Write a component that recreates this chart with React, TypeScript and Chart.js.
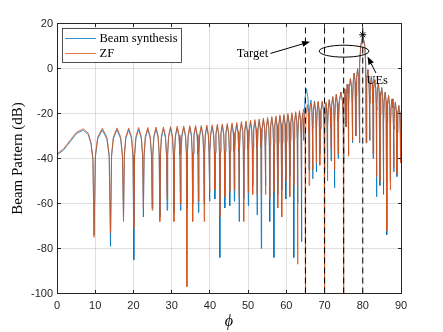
import React, { useEffect, useRef } from 'react';
import { Chart, registerables } from 'chart.js';

Chart.register(...registerables);

// ---------- axes ----------
const xTickValues = [0, 10, 20, 30, 40, 50, 60, 70, 80, 90];
const yTickValues = [-100, -80, -60, -40, -20, 0, 20];

// ---------- series labels ----------
const seriesLabels = ['Beam synthesis', 'ZF'];

// ---------- first (wide) lobe ----------
const startPhi = [0, 1.7, 3.4, 5.1, 6.9, 8.2, 8.9, 9.4];
const zfStartDb = [-37.9, -35.7, -32.0, -28.3, -26.8, -28.8, -33.0, -40.0];
const beamStartDb = [-38.4, -36.3, -32.6, -28.9, -27.4, -29.4, -33.6, -40.6];

// ---------- nulls (angle, depth) ----------
const zfNullPhi = [9.7, 14.0, 17.4, 20.1, 22.6, 24.9, 26.9, 28.8, 30.6, 32.3, 34.0, 35.5, 37.0, 38.5, 39.9, 41.3, 42.6, 43.9, 45.2, 46.4, 47.65, 48.85, 50.05, 51.2, 52.35, 53.45, 54.55, 55.65, 56.75, 57.8, 58.85, 59.9, 60.95, 61.95, 62.95, 63.95, 65.0, 65.95, 66.9, 67.85, 68.8, 70.0, 70.75, 71.7, 72.6, 73.55, 75.0, 75.6, 76.25, 77.3, 78.2, 79.1, 80.9, 81.8, 82.7, 83.6, 84.5, 85.4, 86.3, 87.2, 88.1, 88.95, 89.9];
const zfNullDb = [-75, -73, -68, -71, -62, -63, -68, -58, -68, -60, -97, -68, -59, -68, -55, -54, -66, -57, -55, -54, -57, -68, -55, -56, -56, -56, -56, -58, -55, -62, -66, -50, -57, -52, -87, -53, -130, -52, -45, -42, -43, -130, -50, -36, -45, -38, -130, -26, -39, -32, -30, -33, -33, -31.6, -38, -48, -50, -50, -72, -54, -44, -47, -42];

const beamNullPhi = [9.7, 14.0, 17.4, 20.1, 22.6, 24.9, 26.9, 28.8, 30.6, 32.3, 34.0, 35.5, 37.0, 38.5, 39.9, 41.3, 42.6, 43.9, 45.2, 46.4, 47.65, 48.85, 50.05, 51.2, 52.35, 53.45, 54.55, 55.65, 56.75, 57.8, 58.85, 59.9, 60.95, 61.95, 62.95, 63.95, 64.6, 65.95, 66.9, 67.85, 68.8, 70.0, 70.75, 71.7, 72.6, 73.55, 75.0, 75.6, 76.25, 77.3, 78.2, 79.1, 80.9, 81.8, 82.7, 83.6, 84.5, 85.4, 86.3, 87.2, 88.1, 88.95, 89.9];
const beamNullDb = [-74, -79, -66, -85, -66, -62, -66, -63, -64, -63, -62, -60, -64, -60, -59, -58, -84, -62, -61, -59, -68, -58, -61, -52, -65, -80, -52, -68, -84, -56, -54, -58, -48, -84, -60, -77, -24, -45, -49, -46, -38, -45, -44, -41, -53, -40, -42, -26, -38, -33, -30, -33, -33, -32, -40, -57, -52, -56, -74, -50, -46, -48, -42];

// ---------- lobe peaks (one per gap between nulls) ----------
const zfPeakDb = [-26.5, -26.4, -26.4, -26.2, -26.2, -26.0, -26.0, -25.8, -25.6, -25.5, -25.4, -25.3, -25.3, -25.1, -25.0, -24.8, -24.6, -24.4, -24.2, -24.0, -23.6, -23.3, -23.0, -22.7, -22.4, -22.0, -21.7, -21.3, -21.0, -20.6, -20.3, -20.0, -19.6, -19.2, -18.7, -18.0, -16.0, -15.5, -15.0, -14.5, -14.5, -15.0, -13.8, -12.5, -11.5, -10.5, -9.0, -7.0, -4.5, -2.0, 0.0, 14.5, -0.5, -3.5, -5.0, -6.5, -8.5, -10.5, -12.0, -13.5, -15.0, -16.5];
const beamPeakDb = [-27.3, -27.2, -27.2, -27.0, -27.0, -26.8, -26.8, -26.6, -26.4, -26.3, -26.2, -26.1, -26.1, -25.9, -25.8, -25.6, -25.4, -25.2, -25.0, -24.8, -24.4, -24.1, -23.8, -23.5, -23.2, -22.8, -22.5, -22.1, -21.8, -21.4, -21.1, -20.8, -20.4, -20.0, -19.5, -20.0, -9.0, -14.0, -14.5, -15.0, -15.0, -15.5, -14.0, -12.5, -11.5, -10.5, -9.0, -7.0, -4.5, -2.0, 0.0, 14.5, -0.5, -3.5, -5.0, -6.5, -8.5, -10.5, -12.0, -13.5, -15.0, -16.5];

// ---------- end of the curves ----------
const endPhi = [90];
const zfEndDb = [-19];
const beamEndDb = [-19.5];

// ---------- marker and reference lines ----------
const markerPhi = [80];
const markerDb = [15];
const dashedPhi = [65, 70, 75, 80];

// ---------- annotations (data coordinates) ----------
const targetText = { text: 'Target', phi: 47.0, db: 5.0 };
const targetArrow = [55.85, 6.7, 66.2, 11.9];
const ueText = { text: 'UEs', phi: 80.95, db: -7.1 };
const ueArrow = [83.45, -2.0, 81.24, 5.3];
const ellipse = { phi: 75.1, db: 7.7, halfPhi: 6.5, halfDb: 2.65 };

// ---------- styles ----------
const BLUE = '#0072BD';
const ORANGE = '#D95319';
const AXIS = '#262626';
const GRID = 'rgba(38,38,38,0.15)';
const SANS = '"Liberation Sans", Arial, Helvetica, sans-serif';
const SERIF = '"Liberation Serif", "Times New Roman", serif';
const LINE_W = 0.8;
const LOBE_T = [0.08, 0.22, 0.5, 0.78, 0.92];
const LOBE_DROP = [12, 4, 0, 4, 12];

function buildCurve(sPhi: number[], sDb: number[], nPhi: number[], nDb: number[], pDb: number[], ePhi: number[], eDb: number[]) {
  const pts: { x: number; y: number }[] = sPhi.map((x, i) => ({ x, y: sDb[i] }));
  nPhi.forEach((x, i) => {
    pts.push({ x, y: nDb[i] });
    if (i < pDb.length) {
      const w = nPhi[i + 1] - x;
      LOBE_T.forEach((t, k) => pts.push({ x: x + t * w, y: pDb[i] - LOBE_DROP[k] }));
    }
  });
  ePhi.forEach((x, i) => pts.push({ x, y: eDb[i] }));
  return pts;
}

function drawArrow(ctx: CanvasRenderingContext2D, x1: number, y1: number, x2: number, y2: number) {
  const head = 8;
  const half = 3;
  const a = Math.atan2(y2 - y1, x2 - x1);
  const bx = x2 - head * Math.cos(a);
  const by = y2 - head * Math.sin(a);
  ctx.beginPath();
  ctx.moveTo(x1, y1);
  ctx.lineTo(bx, by);
  ctx.stroke();
  ctx.beginPath();
  ctx.moveTo(x2, y2);
  ctx.lineTo(bx + half * Math.sin(a), by - half * Math.cos(a));
  ctx.lineTo(bx - half * Math.sin(a), by + half * Math.cos(a));
  ctx.closePath();
  ctx.fill();
}

const align = (v: number) => Math.round(v - 0.5) + 0.5;

const overlayPlugin = {
  id: 'overlay',
  afterDatasetsDraw(chart: any) {
    const { ctx, chartArea: ca, scales } = chart;
    const px = (v: number) => scales.x.getPixelForValue(v);
    const py = (v: number) => scales.y.getPixelForValue(v);
    ctx.save();
    ctx.beginPath();
    ctx.rect(ca.left, ca.top, ca.right - ca.left, ca.bottom - ca.top);
    ctx.clip();

    // dashed reference lines
    ctx.strokeStyle = '#000';
    ctx.lineWidth = 1;
    ctx.setLineDash([6, 4]);
    dashedPhi.forEach((v) => {
      ctx.beginPath();
      ctx.moveTo(px(v), py(yTickValues[0]));
      ctx.lineTo(px(v), py(yTickValues[yTickValues.length - 1]));
      ctx.stroke();
    });
    ctx.setLineDash([]);

    // ellipse
    ctx.strokeStyle = '#000';
    ctx.lineWidth = 1;
    ctx.beginPath();
    ctx.ellipse(
      px(ellipse.phi), py(ellipse.db),
      px(ellipse.phi + ellipse.halfPhi) - px(ellipse.phi),
      py(ellipse.db) - py(ellipse.db + ellipse.halfDb),
      0, 0, Math.PI * 2
    );
    ctx.stroke();

    // arrows
    ctx.fillStyle = '#000';
    drawArrow(ctx, px(targetArrow[0]), py(targetArrow[1]), px(targetArrow[2]), py(targetArrow[3]));
    drawArrow(ctx, px(ueArrow[0]), py(ueArrow[1]), px(ueArrow[2]), py(ueArrow[3]));

    // annotation texts
    ctx.font = `12.5px ${SERIF}`;
    ctx.textAlign = 'left';
    ctx.textBaseline = 'alphabetic';
    ctx.fillStyle = '#000';
    ctx.fillText(targetText.text, px(targetText.phi), py(targetText.db));
    ctx.fillText(ueText.text, px(ueText.phi), py(ueText.db));
    ctx.restore();

    // legend
    ctx.save();
    const lx = Math.round(ca.left) + 5;
    const ly = Math.round(ca.top) + 4;
    ctx.fillStyle = '#fff';
    ctx.fillRect(lx, ly, 120, 34);
    ctx.strokeStyle = AXIS;
    ctx.lineWidth = 0.8;
    ctx.strokeRect(lx + 0.5, ly + 0.5, 119, 34);
    const rows = [
      { label: seriesLabels[0], color: BLUE, y: ly + 10.5 },
      { label: seriesLabels[1], color: ORANGE, y: ly + 25.5 },
    ];
    ctx.font = `12.5px ${SERIF}`;
    ctx.textAlign = 'left';
    ctx.textBaseline = 'alphabetic';
    rows.forEach((r) => {
      ctx.strokeStyle = r.color;
      ctx.lineWidth = LINE_W;
      ctx.beginPath();
      ctx.moveTo(lx + 3, r.y);
      ctx.lineTo(lx + 34, r.y);
      ctx.stroke();
      ctx.fillStyle = '#000';
      ctx.fillText(r.label, lx + 37.5, r.y + 3.8);
    });
    ctx.restore();
  },
  afterDraw(chart: any) {
    const { ctx, chartArea: ca, scales } = chart;
    const L = align(ca.left), R = align(ca.right), T = align(ca.top), B = align(ca.bottom);
    ctx.save();
    ctx.strokeStyle = AXIS;
    ctx.lineWidth = 1;
    ctx.strokeRect(L, T, R - L, B - T);
    const tl = 3.5;
    ctx.beginPath();
    xTickValues.forEach((v) => {
      const x = align(scales.x.getPixelForValue(v));
      ctx.moveTo(x, B); ctx.lineTo(x, B - tl);
      ctx.moveTo(x, T); ctx.lineTo(x, T + tl);
    });
    yTickValues.forEach((v) => {
      const y = align(scales.y.getPixelForValue(v));
      ctx.moveTo(L, y); ctx.lineTo(L + tl, y);
      ctx.moveTo(R, y); ctx.lineTo(R - tl, y);
    });
    ctx.stroke();

    // axis titles
    ctx.fillStyle = '#000';
    ctx.textAlign = 'center';
    ctx.textBaseline = 'middle';
    ctx.font = `italic 16px ${SERIF}`;
    ctx.fillText('\u03D5', (ca.left + ca.right) / 2, 322);
    ctx.translate(18, (ca.top + ca.bottom) / 2);
    ctx.rotate(-Math.PI / 2);
    ctx.font = `15px ${SERIF}`;
    ctx.fillText('Beam Pattern (dB)', 0, 0);
    ctx.restore();
  },
};

export default function App() {
  const ref = useRef<HTMLCanvasElement>(null);
  useEffect(() => {
    const zfPts = buildCurve(startPhi, zfStartDb, zfNullPhi, zfNullDb, zfPeakDb, endPhi, zfEndDb);
    const beamPts = buildCurve(startPhi, beamStartDb, beamNullPhi, beamNullDb, beamPeakDb, endPhi, beamEndDb);
    const tickFont = { family: SANS, size: 11 };
    const chart = new Chart(ref.current as HTMLCanvasElement, {
      type: 'line',
      data: {
        datasets: [
          {
            label: '*',
            data: markerPhi.map((x, i) => ({ x, y: markerDb[i] })),
            showLine: false,
            pointStyle: 'star',
            pointRadius: 3.5,
            pointBorderColor: '#000',
            pointBackgroundColor: '#000',
            pointBorderWidth: 1,
            borderColor: '#000',
            order: 0,
          },
          {
            label: seriesLabels[1],
            data: zfPts,
            borderColor: ORANGE,
            borderWidth: LINE_W,
            pointRadius: 0,
            tension: 0,
            fill: false,
            order: 1,
          },
          {
            label: seriesLabels[0],
            data: beamPts,
            borderColor: BLUE,
            borderWidth: LINE_W,
            pointRadius: 0,
            tension: 0,
            fill: false,
            order: 2,
          },
        ],
      },
      options: {
        animation: false,
        responsive: false,
        devicePixelRatio: 1,
        events: [],
        layout: { padding: { left: 0, top: 23.5, right: 42, bottom: 0 } },
        plugins: { legend: { display: false }, tooltip: { enabled: false } },
        scales: {
          x: {
            type: 'linear',
            min: xTickValues[0],
            max: xTickValues[xTickValues.length - 1],
            afterBuildTicks: (s: any) => { s.ticks = xTickValues.map((v) => ({ value: v })); },
            afterFit: (s: any) => { s.height = 38.5; },
            ticks: { font: tickFont, color: AXIS, padding: 6, maxRotation: 0, autoSkip: false },
            grid: { color: GRID, drawTicks: false, lineWidth: 1 },
            border: { display: false },
          },
          y: {
            type: 'linear',
            min: yTickValues[0],
            max: yTickValues[yTickValues.length - 1],
            afterBuildTicks: (s: any) => { s.ticks = yTickValues.map((v) => ({ value: v })); },
            afterFit: (s: any) => { s.width = 57; },
            ticks: { font: tickFont, color: AXIS, padding: 4, autoSkip: false },
            grid: { color: GRID, drawTicks: false, lineWidth: 1 },
            border: { display: false },
          },
        },
      },
      plugins: [overlayPlugin],
    } as any);
    return () => chart.destroy();
  }, []);
  return (
    <div style={{ position: 'absolute', left: 0, top: 0, width: 443, height: 332, background: '#fff' }}>
      <canvas ref={ref} width={443} height={332} style={{ display: 'block', width: 443, height: 332 }} />
    </div>
  );
}
